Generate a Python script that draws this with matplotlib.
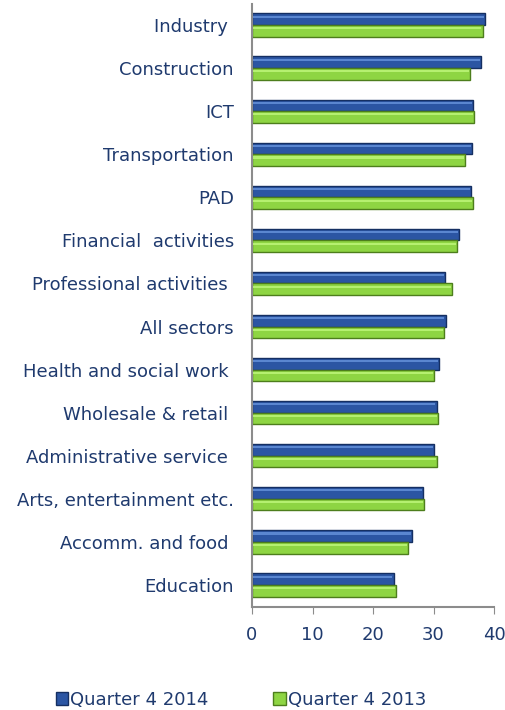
import matplotlib.pyplot as plt
import numpy as np
from matplotlib.patches import Patch

# input data (top to bottom as in the chart)
categories = ['Industry ', 'Construction', 'ICT', 'Transportation', 'PAD',
              'Financial  activities', 'Professional activities ', 'All sectors',
              'Health and social work ', 'Wholesale & retail ',
              'Administrative service ', 'Arts, entertainment etc.',
              'Accomm. and food ', 'Education']
q4_2014 = [38.5, 37.9, 36.6, 36.4, 36.2, 34.2, 31.9, 32.0, 30.9, 30.5, 30.1, 28.3, 26.5, 23.4]
q4_2013 = [38.1, 36.1, 36.7, 35.2, 36.5, 33.9, 33.1, 31.7, 30.1, 30.7, 30.6, 28.5, 25.8, 23.8]
xticks = [0, 10, 20, 30, 40]

txt = '#1F3A6E'
blue, blue_edge = '#2B55A3', '#152F62'
green, green_edge = '#8ED543', '#4D7E1C'

plt.rcParams['font.family'] = ['DejaVu Sans']
fig = plt.figure(figsize=(5.06, 7.10), dpi=100)
ax = fig.add_axes([252 / 506, 1 - 606.5 / 710, 242 / 506, 603 / 710])

y = np.arange(len(categories))
h = 0.27
ax.barh(y - h / 2, q4_2014, height=h, color=blue, edgecolor=blue_edge, linewidth=1.0)
ax.barh(y + h / 2, q4_2013, height=h, color=green, edgecolor=green_edge, linewidth=1.0)
# light highlight strip to mimic the bevelled bars
ax.barh(y - h / 2 - h * 0.22, np.array(q4_2014) - 0.4, height=h * 0.18, left=0.2,
        color='#5A86D0', linewidth=0)
ax.barh(y + h / 2 - h * 0.22, np.array(q4_2013) - 0.4, height=h * 0.18, left=0.2,
        color='#B5F070', linewidth=0)

ax.set_ylim(len(categories) - 0.5, -0.5)
ax.set_xlim(0, 40)
ax.set_yticks(y)
ax.set_yticklabels(categories, fontsize=13, color=txt)
ax.set_xticks(xticks)
ax.set_xticklabels([str(t) for t in xticks], fontsize=13, color=txt)
ax.tick_params(axis='y', length=0, pad=13)
ax.tick_params(axis='x', length=5, color='#8C8C8C', pad=9)
for s in ['top', 'right']:
    ax.spines[s].set_visible(False)
for s in ['left', 'bottom']:
    ax.spines[s].set_color('#8C8C8C')
    ax.spines[s].set_linewidth(1.5)

handles = [Patch(facecolor=blue, edgecolor=blue_edge, label='Quarter 4 2014'),
           Patch(facecolor=green, edgecolor=green_edge, label='Quarter 4 2013')]
leg = fig.legend(handles=handles, loc='center', bbox_to_anchor=(0.476, 1 - 700 / 710),
                 ncol=2, frameon=False, fontsize=13, handlelength=0.7, handleheight=0.7,
                 handletextpad=0.1, columnspacing=3.6)
for t in leg.get_texts():
    t.set_color(txt)

fig.savefig('out.png', dpi=100)
